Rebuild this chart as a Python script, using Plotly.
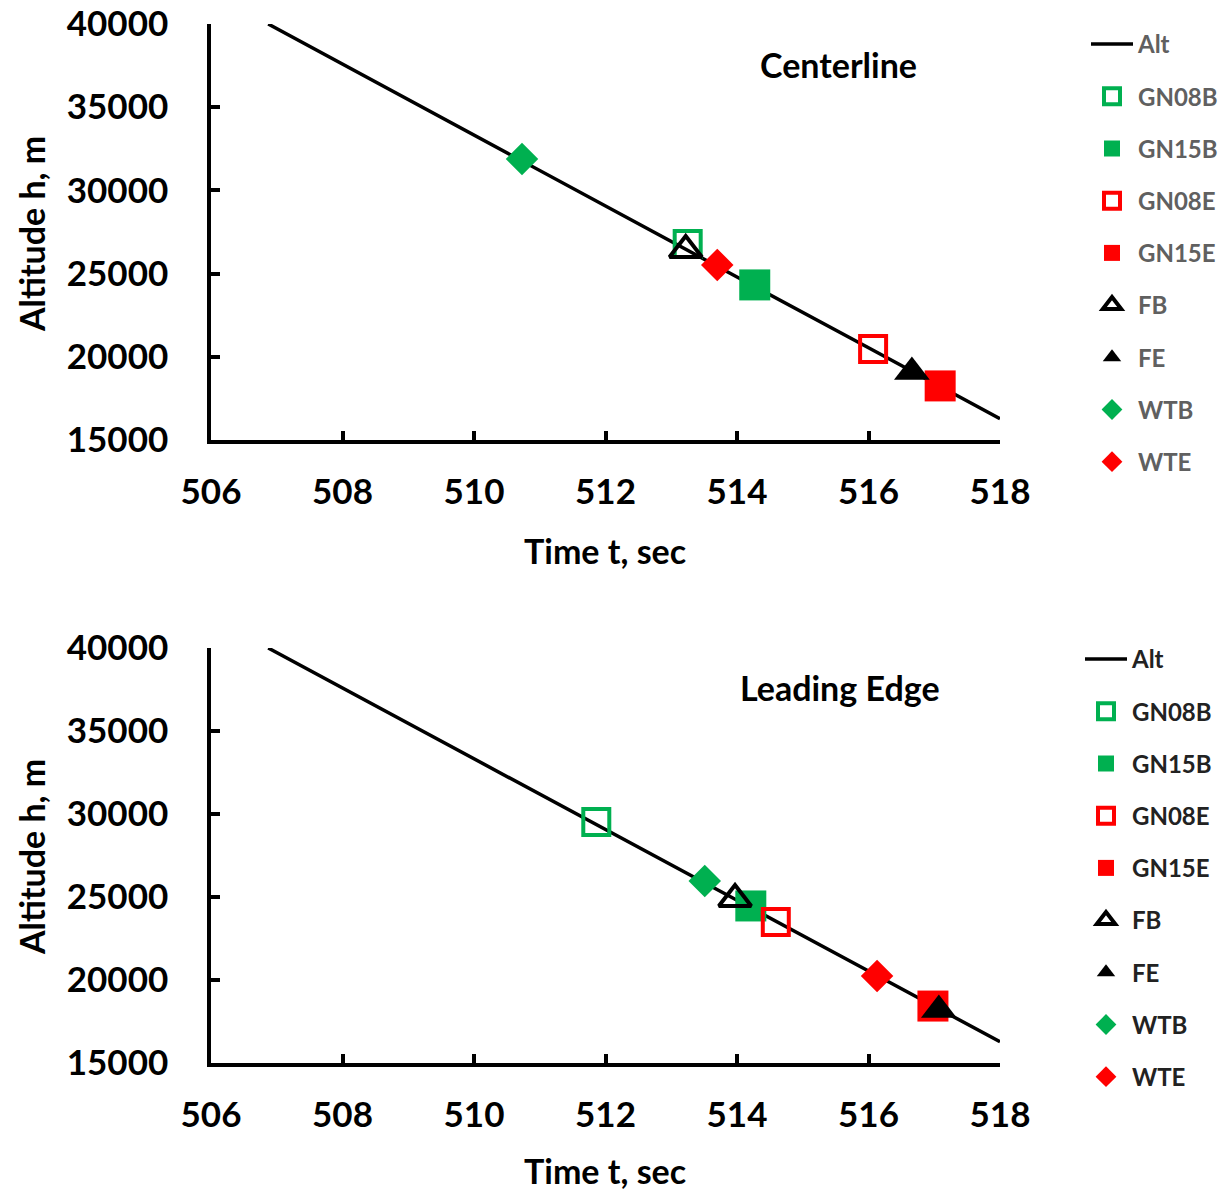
import plotly.graph_objects as go

# ---------------- data ----------------
alt_t = [506.87, 508.0, 510.0, 512.0, 514.0, 516.0, 518.0]
alt_h = [40000, 37600, 33330, 29070, 24800, 20540, 16280]

series = ["GN08B", "GN15B", "GN08E", "GN15E", "FB", "FE", "WTB", "WTE"]

# Centerline
cl_t = [513.25, 514.27, 516.07, 517.09, 513.22, 516.66, 510.73, 513.70]
cl_h = [26780, 24320, 20470, 18250, 26420, 19090, 31890, 25520]

# Leading edge
le_t = [511.86, 514.21, 514.59, 516.98, 513.97, 517.07, 513.51, 516.13]
le_h = [29520, 24460, 23500, 18430, 24880, 18190, 25960, 20240]

x_ticks = [506, 508, 510, 512, 514, 516, 518]
y_ticks = [15000, 20000, 25000, 30000, 35000, 40000]
y_ticktext = ["15000", "20000", "25000", "30000", "35000", "40000"]
x_ticktext = ["506", "508", "510", "512", "514", "516", "518"]

titles = ["Centerline", "Leading Edge"]
x_title = "Time t, sec"
y_title = "Altitude h, m"

# ---------------- styles ----------------
GREEN = "#00B050"
RED = "#FF0000"
BLACK = "#000000"
styles = {
    "GN08B": dict(symbol="square-open", color=GREEN, size=26, lw=4),
    "GN15B": dict(symbol="square", color=GREEN, size=31, lw=0),
    "GN08E": dict(symbol="square-open", color=RED, size=26, lw=4),
    "GN15E": dict(symbol="square", color=RED, size=31, lw=0),
    "FB": dict(symbol="triangle-up-open", color=BLACK, size=28, lw=4),
    "FE": dict(symbol="triangle-up", color=BLACK, size=31, lw=0),
    "WTB": dict(symbol="diamond", color=GREEN, size=25, lw=0),
    "WTE": dict(symbol="diamond", color=RED, size=25, lw=0),
}

W, H = 1232, 1193
FONT = "Lato"

fig = go.Figure()

panels = [
    dict(t=cl_t, h=cl_h, xa="x", ya="y", legend="legend"),
    dict(t=le_t, h=le_h, xa="x2", ya="y2", legend="legend2"),
]

for pi, p in enumerate(panels):
    fig.add_trace(go.Scatter(
        x=alt_t, y=alt_h, mode="lines", name="Alt",
        line=dict(color=BLACK, width=3.5),
        xaxis=p["xa"], yaxis=p["ya"], legend=p["legend"],
        legendgroup=f"p{pi}_Alt", showlegend=True,
    ))
    for i, s in enumerate(series):
        st = styles[s]
        fig.add_trace(go.Scatter(
            x=[p["t"][i]], y=[p["h"][i]], mode="markers", name=s,
            marker=dict(symbol=st["symbol"], color=st["color"], size=st["size"],
                        line=dict(color=st["color"], width=st["lw"])),
            xaxis=p["xa"], yaxis=p["ya"], legend=p["legend"],
            legendgroup=f"p{pi}_{s}", showlegend=True,
        ))

xdom = [211 / W, 1000 / W]
ydom_top = [1 - 440 / H, 1 - 24 / H]
ydom_bot = [1 - 1063 / H, 1 - 648 / H]

axis_common = dict(
    showline=True, linecolor=BLACK, linewidth=3.5, mirror=False,
    ticks="inside", ticklen=9, tickwidth=3.5, tickcolor=BLACK,
    showgrid=False, zeroline=False, automargin=False,
    tickfont=dict(family=FONT, size=35, color=BLACK, weight="bold"),
)

fig.update_layout(
    width=W, height=H,
    margin=dict(l=0, r=0, t=0, b=0),
    paper_bgcolor="white", plot_bgcolor="white",
    xaxis=dict(domain=xdom, anchor="y", range=[506, 518], tickvals=x_ticks,
               ticktext=x_ticktext, ticklabelstandoff=18, **axis_common),
    yaxis=dict(domain=ydom_top, anchor="x", range=[15000, 40000], tickvals=y_ticks,
               ticktext=y_ticktext, ticklabelstandoff=32, **axis_common),
    xaxis2=dict(domain=xdom, anchor="y2", range=[506, 518], tickvals=x_ticks,
                ticktext=x_ticktext, ticklabelstandoff=18, **axis_common),
    yaxis2=dict(domain=ydom_bot, anchor="x2", range=[15000, 40000], tickvals=y_ticks,
                ticktext=y_ticktext, ticklabelstandoff=32, **axis_common),
    legend=dict(x=1086 / W, y=1 - 22 / H, xanchor="left", yanchor="top",
                font=dict(family=FONT, size=24, color="#606060", weight="bold"),
                tracegroupgap=18, itemwidth=42, bgcolor="rgba(0,0,0,0)",
                itemclick=False),
    legend2=dict(x=1080 / W, y=1 - 637 / H, xanchor="left", yanchor="top",
                 font=dict(family=FONT, size=24, color="#222222", weight="bold"),
                 tracegroupgap=18, itemwidth=42, bgcolor="rgba(0,0,0,0)",
                 itemclick=False),
    showlegend=True,
)

ann_font = dict(family=FONT, size=34, color=BLACK, weight="bold")
annotations = [
    dict(text=titles[0], x=838 / W, y=1 - 64 / H),
    dict(text=titles[1], x=840 / W, y=1 - 687 / H),
    dict(text=x_title, x=605 / W, y=1 - 550 / H),
    dict(text=x_title, x=605 / W, y=1 - 1170 / H),
    dict(text=y_title, x=31 / W, y=1 - 234 / H, textangle=-90),
    dict(text=y_title, x=31 / W, y=1 - 857 / H, textangle=-90),
]
for a in annotations:
    fig.add_annotation(xref="paper", yref="paper", showarrow=False,
                       xanchor="center", yanchor="middle", font=ann_font, **a)

fig.write_html("out.html")
